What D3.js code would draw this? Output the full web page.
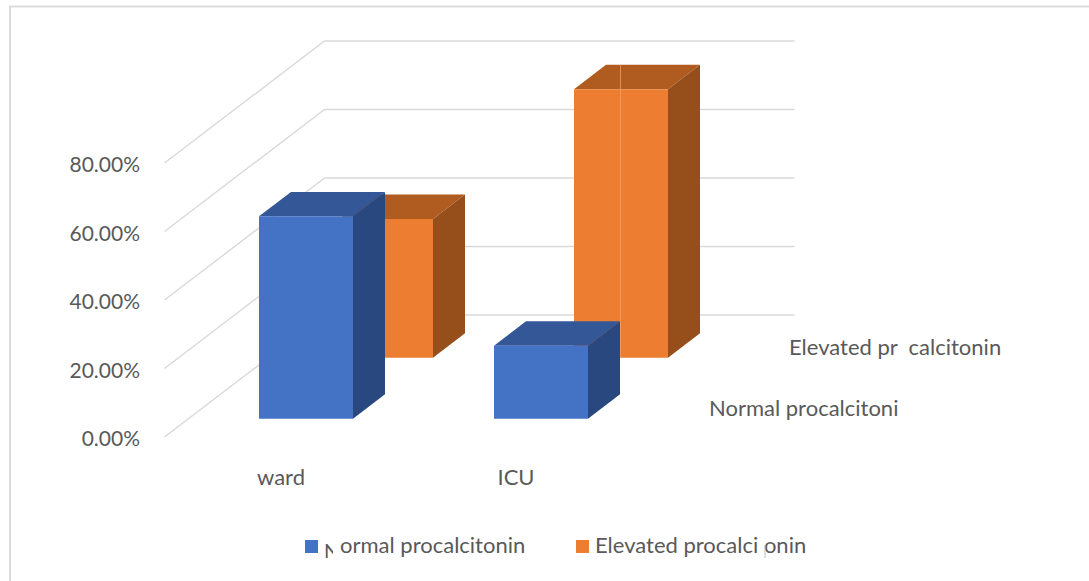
<!DOCTYPE html>
<html>
<head>
<meta charset="utf-8">
<script src="https://cdn.jsdelivr.net/npm/d3@7"></script>
<style>
  html, body { margin: 0; padding: 0; background: #fff; }
  svg { display: block; }
  text { font-family: Lato, "Open Sans", sans-serif; fill: #595959; white-space: pre; }
</style>
</head>
<body>
<svg id="chart" width="1089" height="581"></svg>
<script>
// Chart data
const categories = ["ward", "ICU"];
const seriesNames = ["Normal procalcitonin", "Elevated procalcitonin"];
const normalValues = [0.591, 0.213];
const elevatedValues = [0.405, 0.784];
const tickValues = [0, 0.2, 0.4, 0.6, 0.8];

// Labels as they are printed, including their broken glyphs
const depthLabels = ["Normal procalcitoni", "Elevated pr  calcitonin"];
const legendLabels = ["ormal procalcitonin", "Elevated procalci onin"];

const faces = [
  { front: "#4472c4", top: "#335797", side: "#2a4880" },
  { front: "#ed7d31", top: "#b05c20", side: "#964f1b" }
];

const svg = d3.select("#chart");

// Oblique projection: x along the floor, value upward, depth (0..1) toward the back wall
const xScale = d3.scaleBand().domain(categories).range([164.5, 634.5]).paddingInner(0.6).paddingOuter(0.3);
const yScale = d3.scaleLinear().domain([0, 0.8]).range([437, 163]);
const zScale = d3.scaleBand().domain(seriesNames).range([0, 1]).paddingInner(0.6).paddingOuter(0.3);
const depthX = d3.scaleLinear().domain([0, 1]).range([0, 160]);
const depthY = d3.scaleLinear().domain([0, 1]).range([0, -122]);
const project = (x, v, z) => [x + depthX(z), yScale(v) + depthY(z)];
const line = d3.line();
const polygon = pts => line(pts) + "Z";

// Outer chart frame
svg.append("path")
  .attr("d", line([[10, 581], [10, 6.5], [1089, 6.5]]))
  .attr("fill", "none").attr("stroke", "#dcdcdc").attr("stroke-width", 2);

// Gridlines run along the side wall, then across the back wall
const [floorLeft, floorRight] = xScale.range();
svg.append("g").selectAll("path").data(tickValues).join("path")
  .attr("d", v => line([project(floorLeft, v, 0), project(floorLeft, v, 1), project(floorRight, v, 1)]))
  .attr("fill", "none").attr("stroke", "#d9d9d9").attr("stroke-width", 1.4);

// Value axis labels
const yAxis = d3.axisLeft(yScale).tickValues(tickValues).tickFormat(d3.format(".2%")).tickSize(0).tickPadding(0);
const yAxisG = svg.append("g").attr("transform", "translate(140,2)").call(yAxis);
yAxisG.select(".domain").remove();
yAxisG.selectAll("text").attr("font-size", 21).style("font-family", null);

// Boxes: back series first so the front series overlaps it
const seriesValues = [normalValues, elevatedValues];
[1, 0].forEach(s => {
  categories.forEach((cat, c) => {
    const v = seriesValues[s][c];
    const x0 = xScale(cat), x1 = x0 + xScale.bandwidth();
    const z0 = zScale(seriesNames[s]), z1 = z0 + zScale.bandwidth();
    const g = svg.append("g");
    g.append("path").attr("fill", faces[s].top)
      .attr("d", polygon([project(x0, v, z0), project(x0, v, z1), project(x1, v, z1), project(x1, v, z0)]));
    g.append("path").attr("fill", faces[s].side)
      .attr("d", polygon([project(x1, 0, z0), project(x1, v, z0), project(x1, v, z1), project(x1, 0, z1)]));
    g.append("path").attr("fill", faces[s].front)
      .attr("d", polygon([project(x0, 0, z0), project(x0, v, z0), project(x1, v, z0), project(x1, 0, z0)]));

    // Thin pale seam through the tall ICU box, tucked behind the blue box in front of it
    if (s === 1 && cat === "ICU") {
      const seamX = project(x0, 0, z0)[0] + 46.5;
      g.append("path")
        .attr("d", line([[seamX, project(x0, v, z1)[1]], [seamX, project(x0, 0, z0)[1]]]))
        .attr("stroke", "#f4a46c").attr("stroke-width", 1).attr("opacity", 0.7).attr("fill", "none");
    }
  });
});

// Category labels under the floor
svg.append("g").selectAll("text").data(categories).join("text")
  .attr("x", d => xScale(d) + xScale.bandwidth() / 2 - 1)
  .attr("y", 484.5)
  .attr("text-anchor", "middle")
  .attr("font-size", 22)
  .text(d => d);

// Series labels beside the floor, stepped back with depth
svg.append("g").selectAll("text").data(depthLabels).join("text")
  .attr("x", (d, i) => 709 + i * 80)
  .attr("y", (d, i) => 416 - i * 61)
  .attr("font-size", 22)
  .text(d => d);

// Legend
const legendSwatchX = [305, 576];
const legendTextX = [340, 595];
const legend = svg.append("g").selectAll("g").data(legendLabels).join("g");
legend.append("rect")
  .attr("x", (d, i) => legendSwatchX[i]).attr("y", 540)
  .attr("width", 13).attr("height", 13)
  .attr("fill", (d, i) => faces[i].front);
legend.append("text")
  .attr("x", (d, i) => legendTextX[i]).attr("y", 553)
  .attr("font-size", 22)
  .text(d => d);

// Remnant of the clipped "N" in the first legend entry
const defs = svg.append("defs");
defs.append("clipPath").attr("id", "n-clip")
  .append("rect").attr("x", 324).attr("y", 543).attr("width", 9).attr("height", 16);
svg.append("text")
  .attr("x", 324).attr("y", 558)
  .attr("font-size", 20)
  .attr("clip-path", "url(#n-clip)")
  .text("N");

// Stray stroke in the second legend entry
svg.append("path").attr("d", line([[765, 545], [765, 558]]))
  .attr("stroke", "#bdbdbd").attr("stroke-width", 1).attr("fill", "none");
</script>
</body>
</html>
